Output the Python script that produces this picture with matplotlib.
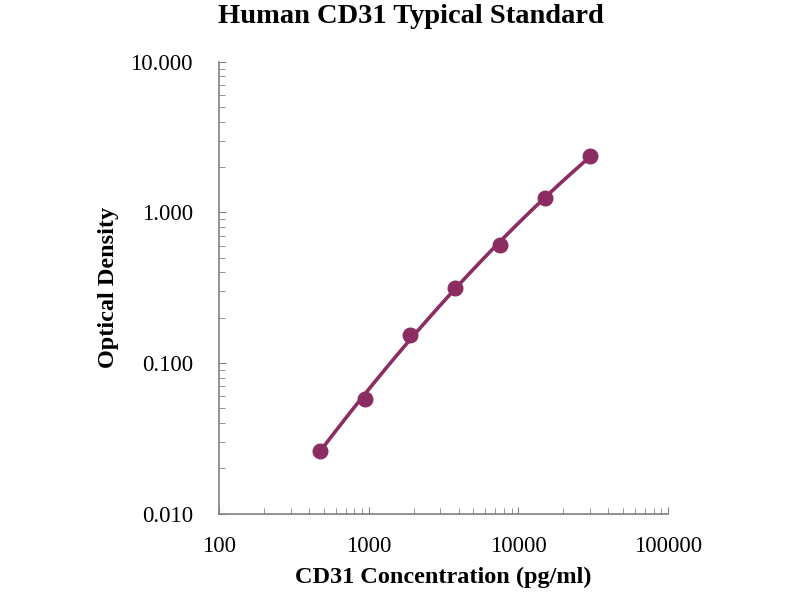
import numpy as np
import matplotlib
matplotlib.use('Agg')
import matplotlib.pyplot as plt
from matplotlib.ticker import FixedLocator, LogLocator, NullFormatter

# Standard curve points
conc = [469, 938, 1875, 3750, 7500, 15000, 30000]
od = [0.026, 0.058, 0.153, 0.313, 0.607, 1.24, 2.37]

x_ticks = [100, 1000, 10000, 100000]
x_labels = ['100', '1000', '10000', '100000']
y_ticks = [0.01, 0.1, 1, 10]
y_labels = ['0.010', '0.100', '1.000', '10.000']

color = '#8c2d62'
plt.rcParams['font.family'] = ['Liberation Serif', 'DejaVu Serif']

# trend line: quadratic fit in log-log space
lx = np.log10(conc)
coef = np.polyfit(lx, np.log10(od), 2)
fit_lx = np.linspace(lx[0], lx[-1], 100)
fit_x = 10 ** fit_lx
fit_y = 10 ** np.polyval(coef, fit_lx)

fig = plt.figure(figsize=(8, 6), dpi=100)
ax = fig.add_axes([0.274, 0.144, 0.561, 0.753])

ax.plot(fit_x, fit_y, color=color, linewidth=2.6, zorder=2)
ax.plot(conc, od, 'o', color=color, markersize=10.5, zorder=3)

ax.set_xscale('log')
ax.set_yscale('log')
ax.set_xlim(100, 100000)
ax.set_ylim(0.01, 10)

ax.xaxis.set_major_locator(FixedLocator(x_ticks))
ax.set_xticklabels(x_labels)
ax.yaxis.set_major_locator(FixedLocator(y_ticks))
ax.set_yticklabels(y_labels)
ax.xaxis.set_minor_locator(LogLocator(base=10, subs=np.arange(2, 10)))
ax.yaxis.set_minor_locator(LogLocator(base=10, subs=np.arange(2, 10)))
ax.xaxis.set_minor_formatter(NullFormatter())
ax.yaxis.set_minor_formatter(NullFormatter())

for s in ['top', 'right']:
    ax.spines[s].set_visible(False)
for s in ['left', 'bottom']:
    ax.spines[s].set_color('#808080')
    ax.spines[s].set_linewidth(1.2)

ax.tick_params(which='both', direction='in', color='#808080', labelsize=16.5)
ax.tick_params(axis='y', pad=19)
ax.tick_params(axis='x', pad=16)
ax.tick_params(which='major', length=5)
ax.tick_params(which='minor', length=4)

fig.text(0.514, 0.973, 'Human CD31 Typical Standard', fontsize=20.5,
         fontweight='bold', ha='center', va='center')
ax.set_xlabel('CD31 Concentration (pg/ml)', fontsize=17.5, fontweight='bold', labelpad=7)
ax.set_ylabel('Optical Density', fontsize=17.5, fontweight='bold', labelpad=8)

plt.savefig('out.png', dpi=100)
plt.close()
